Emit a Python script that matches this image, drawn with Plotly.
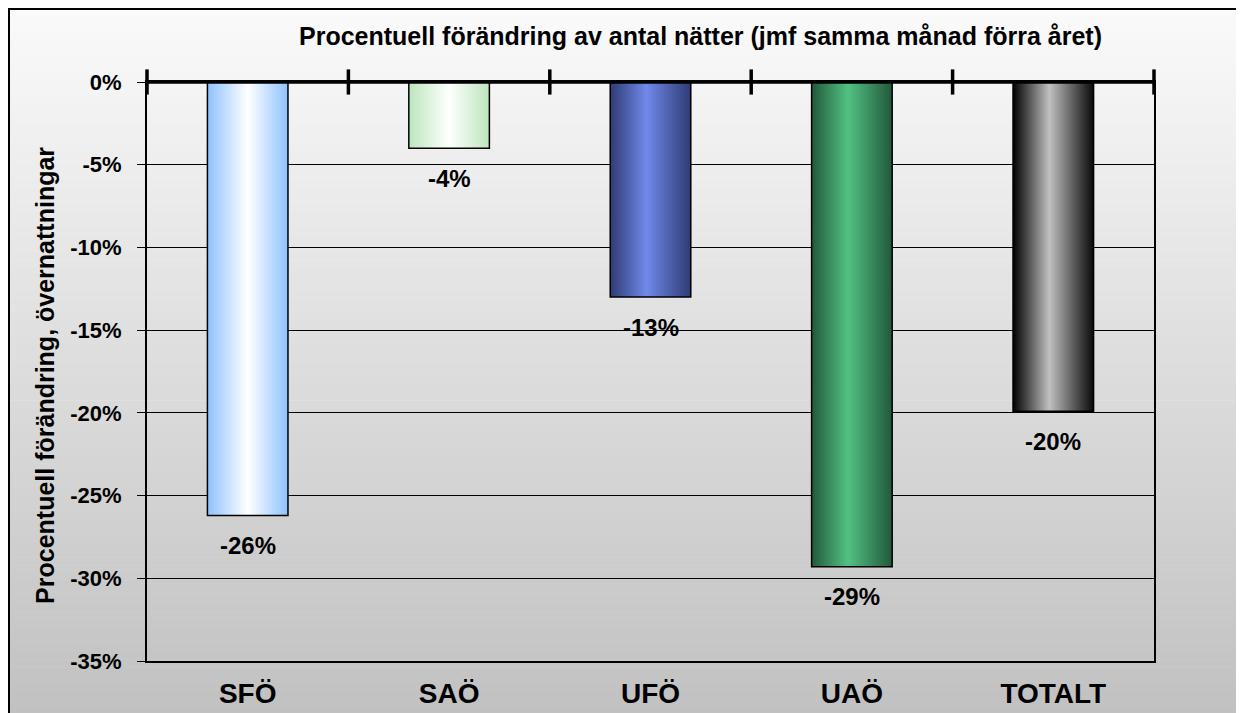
import plotly.graph_objects as go

categories = ['SFÖ', 'SAÖ', 'UFÖ', 'UAÖ', 'TOTALT']
change_pct = [-26.2, -4.0, -13.0, -29.3, -19.9]
y_ticks = [0, -5, -10, -15, -20, -25, -30, -35]

# edge / centre colours of each bar's horizontal gradient
bar_gradients = [
    [[0, '#8ec2ff'], [0.5, '#ffffff'], [1, '#8ec2ff']],
    [[0, '#bce5bc'], [0.5, '#ffffff'], [1, '#bce5bc']],
    [[0, '#2e3b74'], [0.45, '#7089ea'], [1, '#2e3b74']],
    [[0, '#22583a'], [0.45, '#52c282'], [1, '#22583a']],
    [[0, '#000000'], [0.45, '#c0c0c0'], [1, '#0a0a0a']],
]

# page body adds an 8px margin, so figure coords = screen coords - 8
OFF = 8
W, H = 1244, 713
L, R, T, B = 147 - OFF, 1154 - OFF, 82 - OFF, 669 - OFF
font = 'Liberation Sans, Arial, sans-serif'


def px_x(x):
    # screen px -> paper
    return (x - OFF - L) / (R - L)


def px_y(y):
    return (B - (y - OFF)) / (B - T)


half = 0.2
fig = go.Figure()
for i, (cat, v) in enumerate(zip(categories, change_pct)):
    fig.add_trace(go.Scatter(
        x=[i - half, i - half, i + half, i + half, i - half],
        y=[0, v, v, 0, 0],
        fill='toself',
        fillgradient=dict(type='horizontal', colorscale=bar_gradients[i]),
        line=dict(color='black', width=1.5),
        mode='lines',
        hoverinfo='skip',
        showlegend=False,
    ))
    fig.add_annotation(x=i, y=v, text=f'{round(v):d}%', showarrow=False,
                       yanchor='middle', yshift=-30,
                       font=dict(family=font, size=24, color='black', weight='bold'))

# zero axis with crossing tick marks at category borders
fig.add_shape(type='line', x0=-0.5, x1=len(categories) - 0.5, y0=0, y1=0,
              line=dict(color='black', width=3.5), layer='above')
fig.add_trace(go.Scatter(
    x=[i - 0.5 for i in range(len(categories) + 1)],
    y=[0] * (len(categories) + 1),
    mode='markers',
    marker=dict(symbol='line-ns', size=18, line=dict(color='black', width=3.5)),
    cliponaxis=False, hoverinfo='skip', showlegend=False,
))

# background gradient of the chart area
n = 90
top, bot = 7, H + 10
for k in range(n):
    y0 = top + (bot - top) * k / n
    y1 = top + (bot - top) * (k + 1) / n + 0.5
    g = round(250 - (250 - 193) * k / (n - 1))
    fig.add_shape(type='rect', xref='paper', yref='paper',
                  x0=px_x(8), x1=px_x(W + 10), y0=px_y(y1), y1=px_y(y0),
                  fillcolor=f'rgb({g},{g},{g})', line_width=0, layer='below')
fig.add_shape(type='rect', xref='paper', yref='paper',
              x0=px_x(9), x1=px_x(W + 20), y0=px_y(H + 20), y1=px_y(8),
              line=dict(color='black', width=2), fillcolor='rgba(0,0,0,0)', layer='above')

fig.add_annotation(xref='paper', yref='paper', x=px_x(700), y=px_y(35),
                   xanchor='center', yanchor='middle',
                   text='Procentuell förändring av antal nätter (jmf samma månad förra året)',
                   showarrow=False, font=dict(family=font, size=25, color='black', weight='bold'))
fig.add_annotation(xref='paper', yref='paper', x=px_x(45), y=px_y(380), textangle=-90,
                   xanchor='center', yanchor='middle',
                   text='Procentuell förändring, övernattningar',
                   showarrow=False, font=dict(family=font, size=25, color='black', weight='bold'))

fig.update_layout(
    width=W, height=H,
    margin=dict(l=L, r=W - R, t=T, b=H - B),
    paper_bgcolor='white', plot_bgcolor='rgba(0,0,0,0)',
    font=dict(family=font, color='black'),
    xaxis=dict(range=[-0.5, len(categories) - 0.5], tickvals=list(range(len(categories))),
               ticktext=categories, showgrid=False, zeroline=False, ticks='',
               showline=True, mirror=True, linecolor='black', linewidth=2,
               ticklabelstandoff=6,
               tickfont=dict(family=font, size=28, color='black', weight='bold')),
    yaxis=dict(range=[-35, 0], tickvals=y_ticks, ticktext=[f'{t}%' for t in y_ticks],
               showgrid=True, gridcolor='black', gridwidth=1, zeroline=False,
               ticks='outside', ticklen=8, tickcolor='black', tickwidth=1,
               showline=True, mirror=True, linecolor='black', linewidth=2,
               ticklabelstandoff=11,
               tickfont=dict(family=font, size=22, color='black', weight='bold')),
)

fig.write_html('out.html')
